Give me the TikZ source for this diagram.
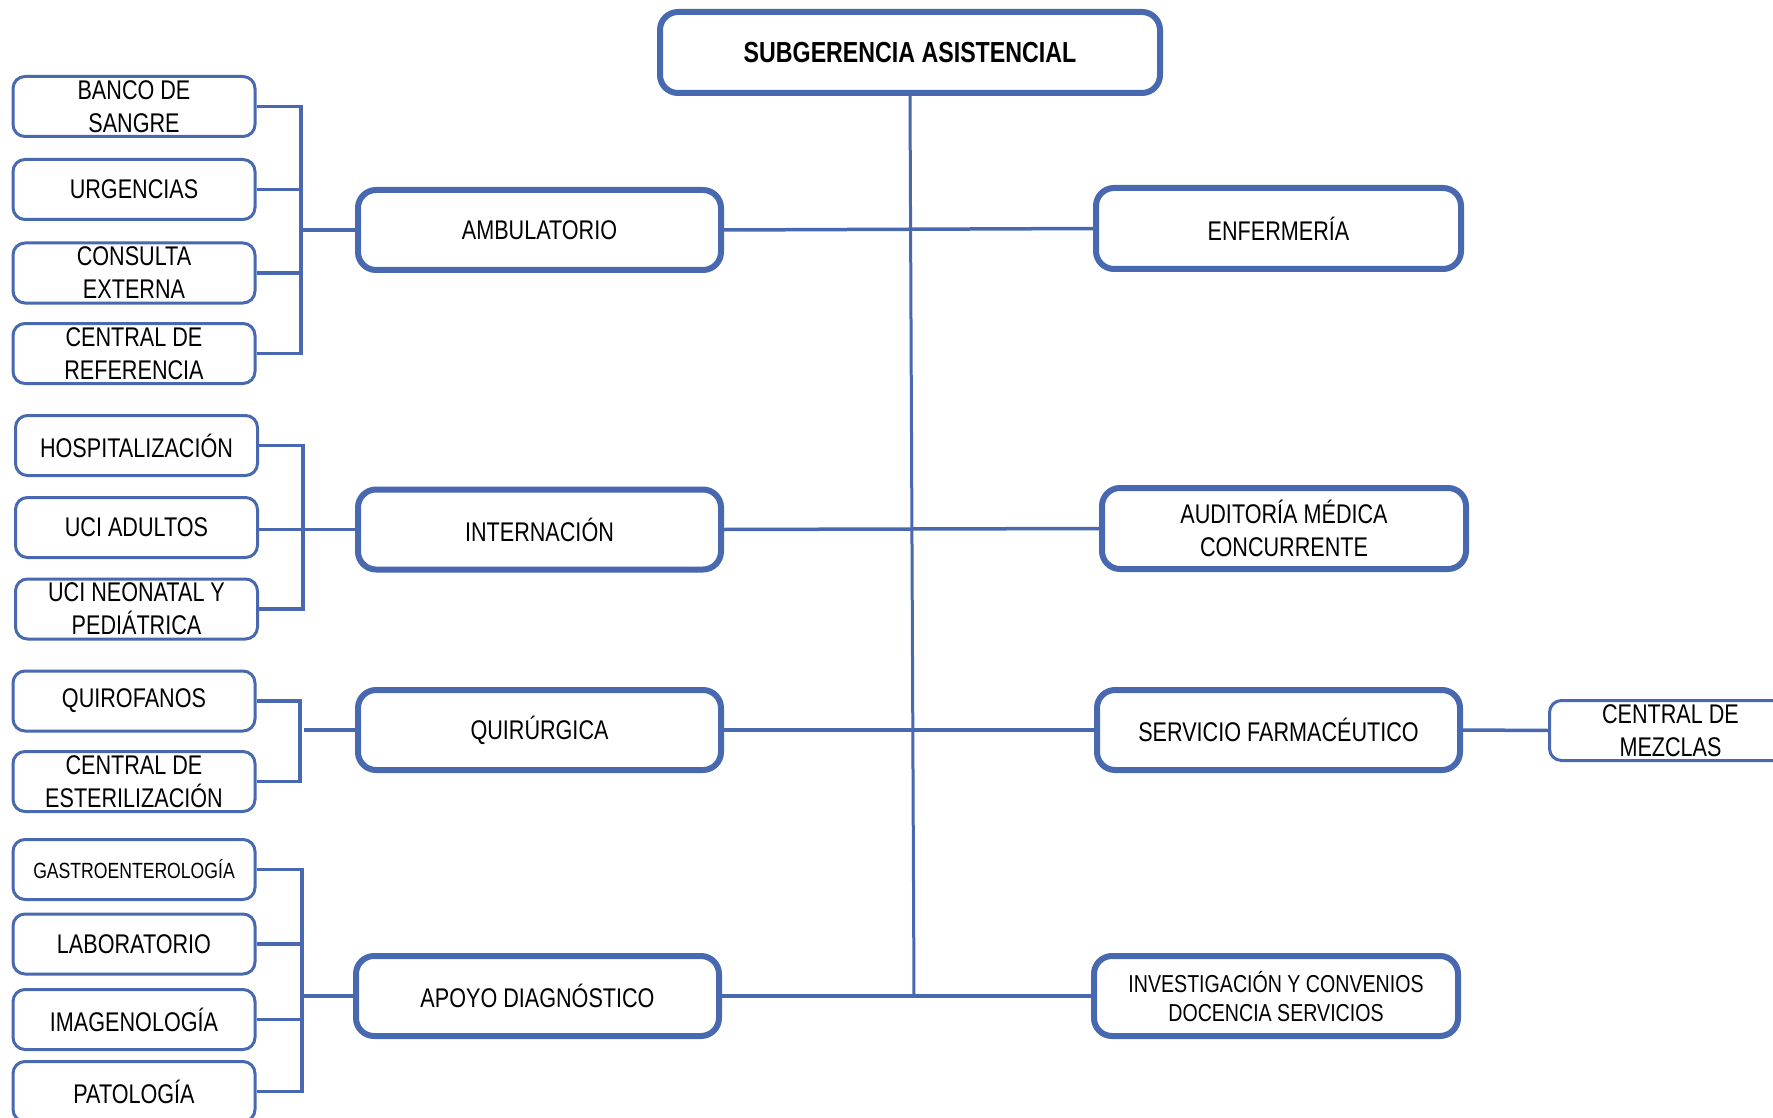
\documentclass[tikz,border=0pt]{standalone}
\usepackage{fontspec}
\setmainfont[FakeStretch=0.8]{Liberation Sans}
\definecolor{bl}{RGB}{72,104,175}
\begin{document}
\begin{tikzpicture}[x=1pt,y=-1pt,
  txt/.style={font=\fontsize{27}{33}\selectfont},
  mainbox/.style={draw=bl, line width=6pt, rounded corners=18pt, fill=white,
     minimum width=363pt, minimum height=80pt, inner sep=0pt, align=center, txt},
  leaf/.style={draw=bl, line width=3pt, rounded corners=12pt, fill=white,
     minimum width=242pt, minimum height=60pt, inner sep=0pt, align=center, txt},
  conn/.style={draw=bl, line width=3.5pt},
  trunk/.style={draw=bl, line width=3pt}]
\useasboundingbox (0,0) rectangle (1773,1118);
\fill[white] (0,0) rectangle (1773,1118);

% top
\node[mainbox, minimum width=500pt, minimum height=81pt,
  font=\fontsize{29}{33}\selectfont\bfseries] (sub) at (910,52.5) {SUBGERENCIA ASISTENCIAL};

% main left
\node[mainbox] (amb) at (539.5,230) {AMBULATORIO};
\node[mainbox] (int) at (539.5,529.5) {INTERNACIÓN};
\node[mainbox] (quir) at (539.5,730) {QUIRÚRGICA};
\node[mainbox] (apo) at (537.5,996) {APOYO DIAGNÓSTICO};

% main right
\node[mainbox, minimum width=365pt, minimum height=81pt] (enf) at (1278.5,228.5) {ENFERMERÍA};
\node[mainbox, minimum width=364pt, minimum height=81pt] (aud) at (1284,528.5) {AUDITORÍA MÉDICA\\CONCURRENTE};
\node[mainbox] (sf) at (1278.5,730) {SERVICIO FARMACÉUTICO};
\node[mainbox, minimum width=364pt, font=\fontsize{24.5}{29}\selectfont] (inv) at (1276,996) {INVESTIGACIÓN Y CONVENIOS\\DOCENCIA SERVICIOS};

% leaves
\node[leaf] (banco) at (134,106.5) {BANCO DE\\SANGRE};
\node[leaf] (urg) at (134,189.5) {URGENCIAS};
\node[leaf] (cons) at (134,273) {CONSULTA\\EXTERNA};
\node[leaf] (cref) at (134,353.5) {CENTRAL DE\\REFERENCIA};

\node[leaf] (hosp) at (136.5,445.5) {HOSPITALIZACIÓN};
\node[leaf] (ucia) at (136.5,527.5) {UCI ADULTOS};
\node[leaf] (ucin) at (136.5,609) {UCI NEONATAL Y\\PEDIÁTRICA};

\node[leaf] (quiro) at (134,701) {QUIROFANOS};
\node[leaf] (cest) at (134,781.5) {CENTRAL DE\\ESTERILIZACIÓN};

\node[leaf, font=\fontsize{22}{26}\selectfont] (gas) at (134,869.5) {GASTROENTEROLOGÍA};
\node[leaf] (lab) at (134,944) {LABORATORIO};
\node[leaf] (img) at (134,1019.5) {IMAGENOLOGÍA};
\node[leaf] (pat) at (134,1091.5) {PATOLOGÍA};

\node[leaf] (mez) at (1670.5,730.5) {CENTRAL DE\\MEZCLAS};

% trunk
\coordinate (tb) at (914,996);
\draw[trunk] (sub.south) -- (tb);
\draw[conn] (amb.east) -- (enf.west);
\draw[conn] (int.east) -- (aud.west);
\draw[conn] (quir.east) -- (sf.west);
\draw[conn] (apo.east) -- (inv.west);
\draw[conn] (sf.east) -- (mez.west);

% bracket ambulatorio
\coordinate (b1) at (301,0);
\draw[conn] (banco.east) -- (banco.east -| b1) -- (cref.east -| b1) -- (cref.east);
\draw[conn] (urg.east) -- (urg.east -| b1);
\draw[conn] (cons.east) -- (cons.east -| b1);
\draw[conn] (amb.west) -- (amb.west -| b1);

% bracket internacion
\coordinate (b2) at (303,0);
\draw[conn] (hosp.east) -- (hosp.east -| b2) -- (ucin.east -| b2) -- (ucin.east);
\draw[conn] (int.west -| ucia.east) -- (int.west);

% bracket quirurgica
\coordinate (b3) at (300,0);
\draw[conn] (quiro.east) -- (quiro.east -| b3) -- (cest.east -| b3) -- (cest.east);
\coordinate (b3s) at (304,0);
\draw[conn] (quir.west) -- (quir.west -| b3s);

% bracket apoyo
\coordinate (b4) at (302,0);
\draw[conn] (gas.east) -- (gas.east -| b4) -- (pat.east -| b4) -- (pat.east);
\draw[conn] (lab.east) -- (lab.east -| b4);
\draw[conn] (img.east) -- (img.east -| b4);
\draw[conn] (apo.west) -- (apo.west -| b4);
\end{tikzpicture}
\end{document}
